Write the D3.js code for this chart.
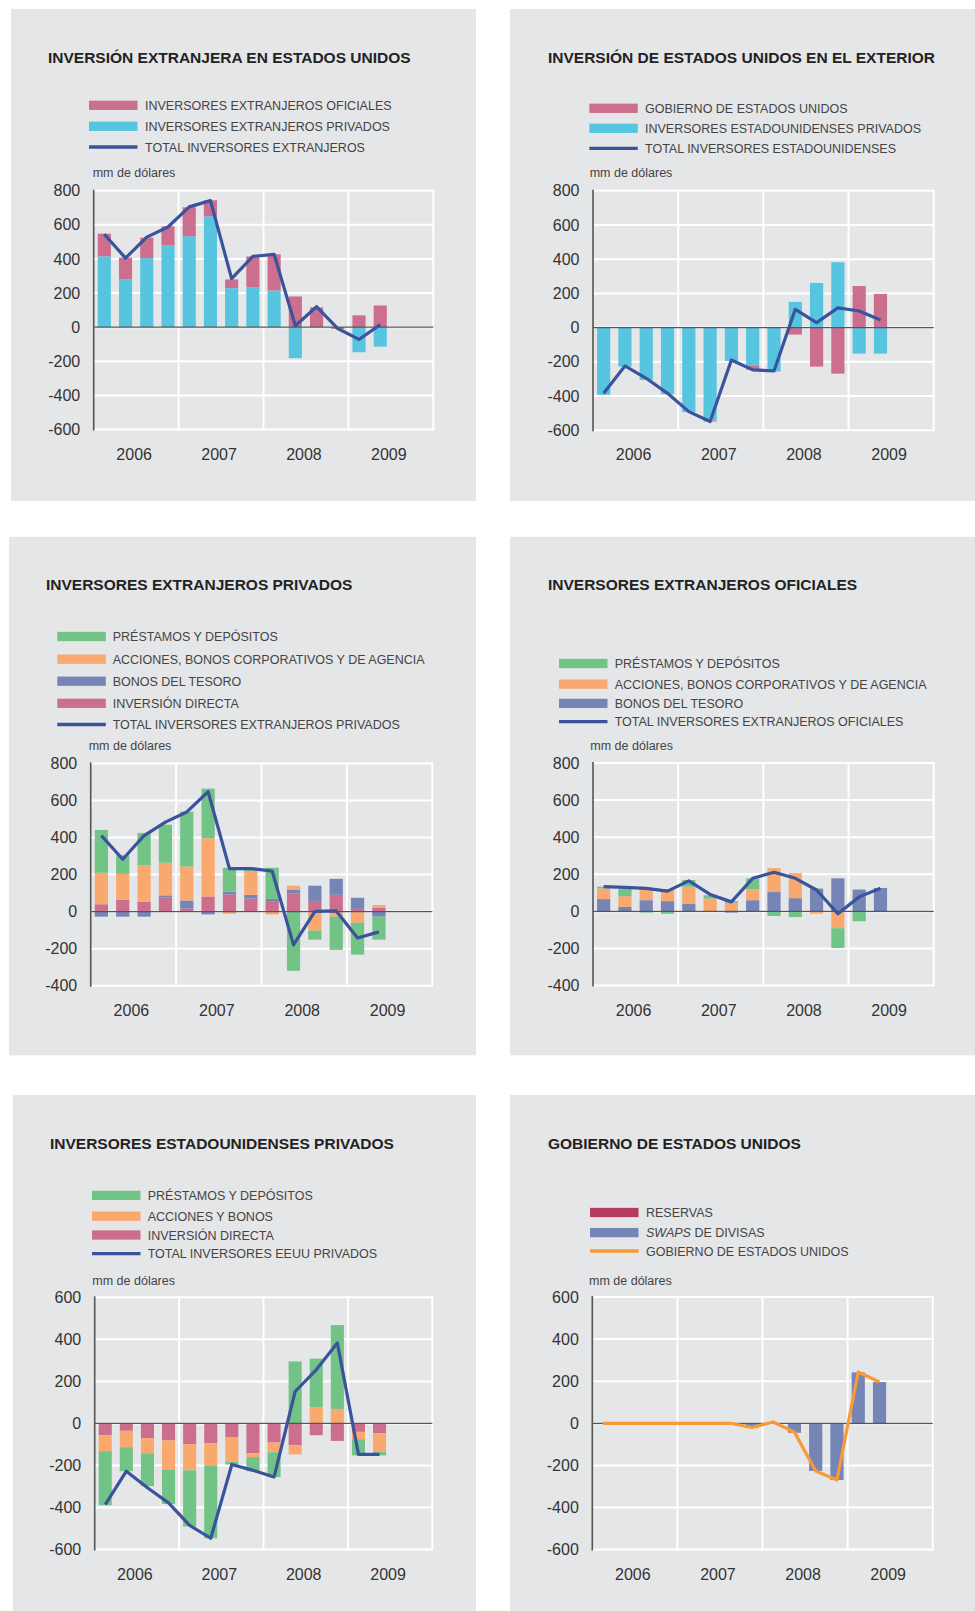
<!DOCTYPE html>
<html>
<head>
<meta charset="utf-8">
<script src="https://cdn.jsdelivr.net/npm/d3@7"></script>
<style>
  body { margin: 0; background: #ffffff; }
  svg { display: block; }
  text { font-family: "Liberation Sans", Arial, Helvetica, sans-serif; }
</style>
</head>
<body>
<svg id="chart" width="975" height="1611"></svg>
<script>
// ---- Categories ----
const years = ["2006", "2007", "2008", "2009"];
const quarterNames = ["I", "II", "III", "IV"];
// 14 quarters with data: 2006 I .. 2009 II
const quarters = ["2006-I","2006-II","2006-III","2006-IV","2007-I","2007-II","2007-III","2007-IV",
                  "2008-I","2008-II","2008-III","2008-IV","2009-I","2009-II"];

// ---- Tick values (mm de dólares) ----
const ticksWide = [-600, -400, -200, 0, 200, 400, 600, 800];
const ticksNarrow = [-400, -200, 0, 200, 400, 600, 800];
const ticksSym = [-600, -400, -200, 0, 200, 400, 600];

// ---- Inversión extranjera en Estados Unidos ----
const extOficiales = [133, 127, 120, 111, 170, 94, 51, 182, 212, 180, 116, -10, 69, 127];
const extPrivados  = [415, 280, 405, 480, 533, 650, 229, 233, 215, -182, 0, 0, -147, -114];
const extTotal     = [545, 405, 528, 587, 705, 742, 284, 415, 427, 8, 120, -8, -72, 15];

// ---- Inversión de Estados Unidos en el exterior ----
const eeuuGobierno = [0, 0, 0, 0, 0, -6, 0, -22, 4, -41, -228, -269, 243, 197];
const eeuuPrivados = [-393, -228, -306, -389, -494, -543, -195, -224, -257, 150, 261, 382, -152, -152];
const eeuuTotal    = [-384, -224, -296, -384, -491, -549, -189, -247, -253, 107, 29, 115, 97, 45];

// ---- Inversores extranjeros privados ----
const pePrestamos = [231, 101, 175, 205, 296, 268, 129, 8, 168, -319, -49, -179, -172, -124];
const peAcciones  = [170, 140, 197, 176, 184, 314, -11, 128, -15, 21, -102, -27, -60, 14];
const peTesoro    = [-27, -27, -27, 11, 44, -15, 15, 20, 16, 22, 82, 86, 60, -27];
const peDirecta   = [40, 64, 53, 77, 16, 82, 93, 71, 53, 97, 58, 91, 15, 22];
const peTotal     = [410, 283, 410, 483, 538, 647, 232, 233, 219, -179, 2, 4, -142, -109];

// ---- Inversores extranjeros oficiales ----
const oePrestamos = [9, 38, -7, -13, 36, 18, 9, 58, -25, -31, 4, -107, -53, 0];
const oeAcciones  = [58, 58, 60, 65, 93, 69, 46, 60, 129, 135, -13, -91, 5, 0];
const oeTesoro    = [66, 24, 60, 55, 40, 0, -7, 60, 104, 71, 120, 178, 115, 126];
const oeTotal     = [133, 129, 124, 109, 164, 91, 51, 178, 211, 178, 115, -13, 78, 124];

// ---- Inversores estadounidenses privados ----
const upPrestamos = [-257, -114, -156, -164, -267, -347, -13, -67, -118, 295, 231, 399, -77, -16];
const upAcciones  = [-76, -78, -72, -139, -124, -105, -117, -18, -46, -43, 77, 69, -35, -90];
const upDirecta   = [-56, -35, -70, -80, -99, -94, -65, -142, -91, -104, -56, -83, -40, -46];
const upTotal     = [-386, -227, -306, -378, -485, -546, -195, -223, -255, 152, 255, 383, -147, -147];

// ---- Gobierno de Estados Unidos ----
const goReservas = [0, 0, 0, 0, 0, 0, 0, 0, 0, -4, 0, -3, 0, 0];
const goSwaps    = [0, 0, 0, 0, 0, 0, 0, -22, 0, -40, -226, -266, 242, 196];
const goTotal    = [0, 0, 0, 0, 0, 0, 0, -20, 6, -42, -227, -269, 244, 196];

// ---- Palette ----
const C = {
  pink: "#cc6f8e", cyan: "#57c5e0", navy: "#3b529d", green: "#71c386",
  orange: "#f9a86e", purple: "#7585b6", reservas: "#b63b61", orangeLine: "#f89a37",
  panel: "#e5e6e8", axis: "#555555", title: "#222222", label: "#444444", tick: "#333333"
};

// Every quarter slot along the x axis (4 years x 4 quarters)
const slots = years.flatMap(y => quarterNames.map(q => `${y}-${q}`));

const panels = [
  {
    title: "INVERSIÓN EXTRANJERA EN ESTADOS UNIDOS",
    bg: [11, 9, 465, 492], titleX: 48, titleY: 62.5,
    legX: 89, legTextX: 145, legRows: [105.3, 126.3, 147], unitX: 92.7, unitY: 176.6,
    plot: { L: 93.7, R: 433.3, T: 190.7, B: 429.5 }, ticks: ticksWide,
    series: [
      { key: "priv", values: extPrivados, color: C.cyan },
      { key: "ofic", values: extOficiales, color: C.pink }
    ],
    total: { values: extTotal, color: C.navy },
    legend: [
      { kind: "bar", color: C.pink, label: "INVERSORES EXTRANJEROS OFICIALES" },
      { kind: "bar", color: C.cyan, label: "INVERSORES EXTRANJEROS PRIVADOS" },
      { kind: "line", color: C.navy, label: "TOTAL INVERSORES EXTRANJEROS" }
    ]
  },
  {
    title: "INVERSIÓN DE ESTADOS UNIDOS EN EL EXTERIOR",
    bg: [510, 9, 465, 492], titleX: 548, titleY: 62.7,
    legX: 589.3, legTextX: 645, legRows: [108.3, 128.3, 148.3], unitX: 589.7, unitY: 176.6,
    plot: { L: 593, R: 933.7, T: 190.7, B: 430.3 }, ticks: ticksWide,
    series: [
      { key: "priv", values: eeuuPrivados, color: C.cyan },
      { key: "gob", values: eeuuGobierno, color: C.pink }
    ],
    total: { values: eeuuTotal, color: C.navy },
    legend: [
      { kind: "bar", color: C.pink, label: "GOBIERNO DE ESTADOS UNIDOS" },
      { kind: "bar", color: C.cyan, label: "INVERSORES ESTADOUNIDENSES PRIVADOS" },
      { kind: "line", color: C.navy, label: "TOTAL INVERSORES ESTADOUNIDENSES" }
    ]
  },
  {
    title: "INVERSORES EXTRANJEROS PRIVADOS",
    bg: [9, 536.8, 467, 518.5], titleX: 46, titleY: 590.2,
    legX: 57.3, legTextX: 112.7, legRows: [636.5, 659.2, 681.2, 703.3, 724.5], unitX: 88.7, unitY: 749.5,
    plot: { L: 90.7, R: 432.3, T: 763.4, B: 985.8 }, ticks: ticksNarrow,
    series: [
      { key: "dir", values: peDirecta, color: C.pink },
      { key: "tes", values: peTesoro, color: C.purple },
      { key: "acc", values: peAcciones, color: C.orange },
      { key: "pre", values: pePrestamos, color: C.green }
    ],
    total: { values: peTotal, color: C.navy },
    legend: [
      { kind: "bar", color: C.green, label: "PRÉSTAMOS Y DEPÓSITOS" },
      { kind: "bar", color: C.orange, label: "ACCIONES, BONOS CORPORATIVOS Y DE AGENCIA" },
      { kind: "bar", color: C.purple, label: "BONOS DEL TESORO" },
      { kind: "bar", color: C.pink, label: "INVERSIÓN DIRECTA" },
      { kind: "line", color: C.navy, label: "TOTAL INVERSORES EXTRANJEROS PRIVADOS" }
    ]
  },
  {
    title: "INVERSORES EXTRANJEROS OFICIALES",
    bg: [510, 536.8, 465, 518.5], titleX: 548, titleY: 590.2,
    legX: 559, legTextX: 614.7, legRows: [663.5, 684.1, 703.4, 721.7], unitX: 590.3, unitY: 749.5,
    plot: { L: 593, R: 933.7, T: 763, B: 985.5 }, ticks: ticksNarrow,
    series: [
      { key: "tes", values: oeTesoro, color: C.purple },
      { key: "acc", values: oeAcciones, color: C.orange },
      { key: "pre", values: oePrestamos, color: C.green }
    ],
    total: { values: oeTotal, color: C.navy },
    legend: [
      { kind: "bar", color: C.green, label: "PRÉSTAMOS Y DEPÓSITOS" },
      { kind: "bar", color: C.orange, label: "ACCIONES, BONOS CORPORATIVOS Y DE AGENCIA" },
      { kind: "bar", color: C.purple, label: "BONOS DEL TESORO" },
      { kind: "line", color: C.navy, label: "TOTAL INVERSORES EXTRANJEROS OFICIALES" }
    ]
  },
  {
    title: "INVERSORES ESTADOUNIDENSES PRIVADOS",
    bg: [13, 1095, 463, 516], titleX: 50, titleY: 1148.7,
    legX: 92, legTextX: 147.7, legRows: [1195.4, 1216.2, 1235, 1253.7], unitX: 92.3, unitY: 1284.6,
    plot: { L: 94.7, R: 432.3, T: 1297.3, B: 1549.6 }, ticks: ticksSym,
    series: [
      { key: "dir", values: upDirecta, color: C.pink },
      { key: "acc", values: upAcciones, color: C.orange },
      { key: "pre", values: upPrestamos, color: C.green }
    ],
    total: { values: upTotal, color: C.navy },
    legend: [
      { kind: "bar", color: C.green, label: "PRÉSTAMOS Y DEPÓSITOS" },
      { kind: "bar", color: C.orange, label: "ACCIONES Y BONOS" },
      { kind: "bar", color: C.pink, label: "INVERSIÓN DIRECTA" },
      { kind: "line", color: C.navy, label: "TOTAL INVERSORES EEUU PRIVADOS" }
    ]
  },
  {
    title: "GOBIERNO DE ESTADOS UNIDOS",
    bg: [510, 1095, 465, 516], titleX: 548, titleY: 1148.7,
    legX: 590, legTextX: 646, legRows: [1212.5, 1232.6, 1251], unitX: 589, unitY: 1284.6,
    plot: { L: 592.3, R: 932.7, T: 1297, B: 1549.6 }, ticks: ticksSym,
    series: [
      { key: "swa", values: goSwaps, color: C.purple },
      { key: "res", values: goReservas, color: C.reservas }
    ],
    total: { values: goTotal, color: C.orangeLine },
    legend: [
      { kind: "bar", color: C.reservas, label: "RESERVAS" },
      { kind: "bar", color: C.purple, parts: [{ t: "SWAPS", italic: true }, { t: " DE DIVISAS" }] },
      { kind: "line", color: C.orangeLine, label: "GOBIERNO DE ESTADOS UNIDOS" }
    ]
  }
];

const svg = d3.select("#chart");

function drawPanel(p) {
  const g = svg.append("g");
  const [bx, by, bw, bh] = p.bg;
  g.append("rect").attr("x", bx).attr("y", by).attr("width", bw).attr("height", bh).attr("fill", C.panel);

  // title
  g.append("text").attr("x", p.titleX).attr("y", p.titleY)
    .attr("font-size", 15.5).attr("font-weight", "bold").attr("fill", C.title)
    .text(p.title);

  // legend
  const swW = 48.5, swH = 9.3, legFont = 12.5;
  p.legend.forEach((item, i) => {
    const cy = p.legRows[i];
    if (item.kind === "bar") {
      g.append("rect").attr("x", p.legX).attr("y", cy - swH / 2)
        .attr("width", swW).attr("height", swH).attr("fill", item.color);
    } else {
      g.append("line").attr("x1", p.legX).attr("x2", p.legX + swW)
        .attr("y1", cy).attr("y2", cy).attr("stroke", item.color).attr("stroke-width", 3.3);
    }
    const t = g.append("text").attr("x", p.legTextX).attr("y", cy + legFont * 0.36)
      .attr("font-size", legFont).attr("fill", C.label);
    if (item.parts) {
      item.parts.forEach(part => {
        t.append("tspan").attr("font-style", part.italic ? "italic" : "normal").text(part.t);
      });
    } else {
      t.text(item.label);
    }
  });

  // unit label
  g.append("text").attr("x", p.unitX).attr("y", p.unitY)
    .attr("font-size", 12.5).attr("fill", C.label).text("mm de dólares");

  const { L, R, T, B } = p.plot;
  const x = d3.scaleBand().domain(slots).range([L, R]).paddingInner(0.38).paddingOuter(0.19);
  const y = d3.scaleLinear().domain(d3.extent(p.ticks)).range([B, T]);

  // horizontal grid
  g.append("g").selectAll("line").data(p.ticks).join("line")
    .attr("x1", L).attr("x2", R).attr("y1", d => y(d)).attr("y2", d => y(d))
    .attr("stroke", "#ffffff").attr("stroke-width", 2);

  // vertical grid at year boundaries
  const yearX = d3.scaleLinear().domain([0, years.length]).range([L, R]);
  g.append("g").selectAll("line").data(d3.range(1, years.length + 1)).join("line")
    .attr("x1", d => yearX(d)).attr("x2", d => yearX(d)).attr("y1", T - 1).attr("y2", B + 1)
    .attr("stroke", "#ffffff").attr("stroke-width", 2);

  // stacked bars
  const rows = quarters.map((q, i) => {
    const r = { q };
    p.series.forEach(s => { r[s.key] = s.values[i]; });
    return r;
  });
  const stacked = d3.stack().keys(p.series.map(s => s.key)).offset(d3.stackOffsetDiverging)(rows);
  stacked.forEach((layer, li) => {
    g.append("g").attr("fill", p.series[li].color)
      .selectAll("rect").data(layer).join("rect")
      .attr("x", d => x(d.data.q))
      .attr("width", x.bandwidth())
      .attr("y", d => y(Math.max(d[0], d[1])))
      .attr("height", d => Math.abs(y(d[0]) - y(d[1])));
  });

  // zero line
  g.append("line").attr("x1", L).attr("x2", R).attr("y1", y(0)).attr("y2", y(0))
    .attr("stroke", C.axis).attr("stroke-width", 1.3);

  // left axis with tick labels (plain hyphen for negatives)
  const axis = g.append("g").attr("transform", `translate(${L},0)`)
    .call(d3.axisLeft(y).tickValues(p.ticks).tickSize(0).tickPadding(13.5).tickFormat(d => String(d)));
  axis.select(".domain").remove();
  axis.selectAll("text").attr("font-size", 16).attr("fill", C.tick)
    .attr("font-family", "'Liberation Sans', Arial, Helvetica, sans-serif");
  g.append("line").attr("x1", L).attr("x2", L).attr("y1", T - 1).attr("y2", B + 1)
    .attr("stroke", C.axis).attr("stroke-width", 1.6);

  // total line
  const line = d3.line()
    .x((d, i) => x(quarters[i]) + x.bandwidth() / 2)
    .y(d => y(d));
  g.append("path").datum(p.total.values).attr("d", line)
    .attr("fill", "none").attr("stroke", p.total.color).attr("stroke-width", 3.2)
    .attr("stroke-linejoin", "round");

  // year labels
  g.append("g").selectAll("text").data(years).join("text")
    .attr("x", (d, i) => (yearX(i) + yearX(i + 1)) / 2 - 2)
    .attr("y", B + 30)
    .attr("text-anchor", "middle").attr("font-size", 16).attr("fill", C.tick)
    .text(d => d);
}

panels.forEach(drawPanel);
</script>
</body>
</html>
